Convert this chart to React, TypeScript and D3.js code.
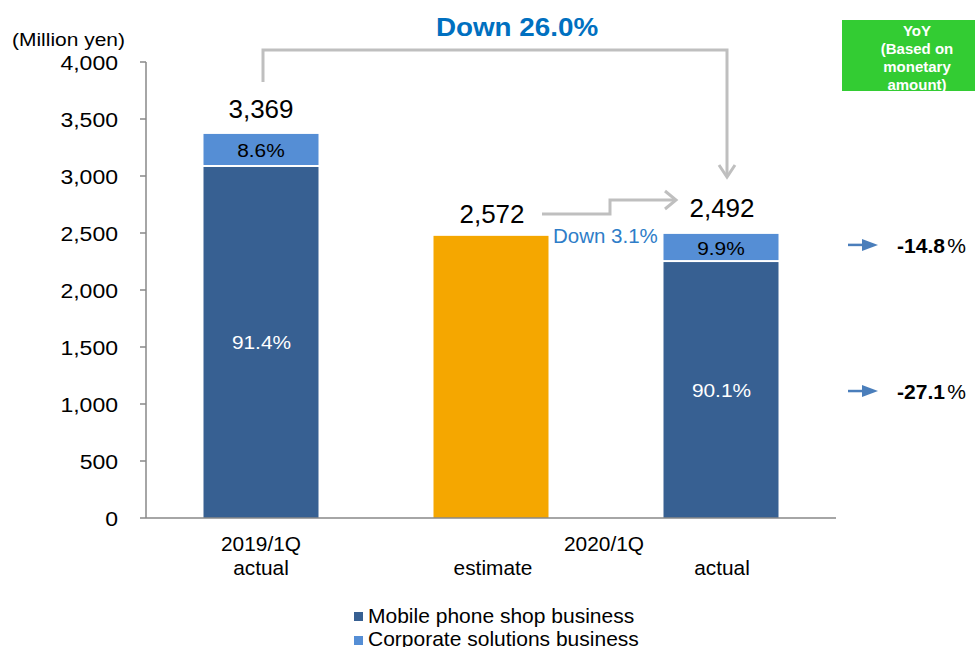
import React from "react";
import * as d3 from "d3";

const categories = ["2019/1Q actual", "2020/1Q estimate", "2020/1Q actual"];
const mobileValues = [3079, 0, 2245];
const corporateValues = [290, 0, 247];
// estimate bar height as drawn in the picture (its label reads 2,572)
const estimateValues = [0, 2475, 0];
const totalLabels = ["3,369", "2,572", "2,492"];
const mobilePctLabels = ["91.4%", "", "90.1%"];
const corporatePctLabels = ["8.6%", "", "9.9%"];
const yTicks = [0, 500, 1000, 1500, 2000, 2500, 3000, 3500, 4000];
const yoyLabels = ["-14.8", "-27.1"];
const legendLabels = ["Mobile phone shop business", "Corporate solutions business"];

const DARK = "#376092";
const LIGHT = "#558ed5";
const ORANGE = "#f5a700";
const FONT = "'Liberation Sans', Arial, sans-serif";

type TProps = {
  x: number; y: number; size: number; sx?: number; anchor?: string;
  fill?: string; weight?: string; children: React.ReactNode;
};
function T({ x, y, size, sx = 1, anchor = "start", fill = "#000", weight = "normal", children }: TProps) {
  return (
    <text transform={`translate(${x},${y}) scale(${sx},1)`} fontSize={size}
      textAnchor={anchor as any} fill={fill} fontWeight={weight}>{children}</text>
  );
}

export default function App() {
  const W = 975, H = 647;
  const x = d3.scaleBand().domain(categories).range([146, 836]).paddingInner(0.5).paddingOuter(0.25);
  const y = d3.scaleLinear().domain([0, 4000]).range([518, 62]);
  const bw = x.bandwidth();
  const cx = (i: number) => (x(categories[i]) as number) + bw / 2;
  const totals = categories.map((_, i) => mobileValues[i] + corporateValues[i] + estimateValues[i]);
  const fmt = d3.format(",");

  return (
    <svg width={W} height={H} style={{ position: "absolute", left: 0, top: 0, fontFamily: FONT }}>
      <rect width={W} height={H} fill="#fff" />
      {/* y axis */}
      <T x={12} y={46} size={18} sx={1.165}>(Million yen)</T>
      <line x1={146} x2={146} y1={y(4000)} y2={y(0)} stroke="#888" strokeWidth={1.5} />
      {yTicks.map((t) => (
        <g key={t}>
          <line x1={140} x2={146} y1={y(t)} y2={y(t)} stroke="#888" strokeWidth={1.5} />
          <T x={118} y={y(t) + 8} size={19.5} sx={1.18} anchor="end">{fmt(t)}</T>
        </g>
      ))}
      {/* bars */}
      {categories.map((c, i) => {
        const x0 = x(c) as number;
        return (
          <g key={c}>
            {estimateValues[i] > 0 && (
              <rect x={x0} width={bw} y={y(estimateValues[i])} height={y(0) - y(estimateValues[i])} fill={ORANGE} />
            )}
            {mobileValues[i] > 0 && (
              <rect x={x0} width={bw} y={y(mobileValues[i])} height={y(0) - y(mobileValues[i])} fill={DARK} />
            )}
            {corporateValues[i] > 0 && (
              <rect x={x0} width={bw} y={y(mobileValues[i] + corporateValues[i])}
                height={y(mobileValues[i]) - y(mobileValues[i] + corporateValues[i]) - 2} fill={LIGHT} />
            )}
            {mobilePctLabels[i] && (
              <T x={cx(i) + 0.5} y={(y(0) + y(mobileValues[i])) / 2 + 7} size={18} sx={1.16} fill="#fff" anchor="middle">{mobilePctLabels[i]}</T>
            )}
            {corporatePctLabels[i] && (
              <T x={cx(i)} y={(y(mobileValues[i]) + y(totals[i])) / 2 + 7} size={18} sx={1.16} anchor="middle">{corporatePctLabels[i]}</T>
            )}
          </g>
        );
      })}
      <line x1={146} x2={836} y1={y(0)} y2={y(0)} stroke="#888" strokeWidth={1.5} />
      {/* total labels */}
      <T x={cx(0)} y={118} size={26} anchor="middle">{totalLabels[0]}</T>
      <T x={cx(1) + 1} y={223} size={26} anchor="middle">{totalLabels[1]}</T>
      <T x={cx(2) + 1} y={217} size={26} anchor="middle">{totalLabels[2]}</T>
      {/* top arrow */}
      <path d={`M${cx(0) + 2},82 V50 H${cx(2) + 6} V176`} fill="none" stroke="#bfbfbf" strokeWidth={3} />
      <path d={`M${cx(2) - 2},165 L${cx(2) + 6},177 L${cx(2) + 14},165`} fill="none" stroke="#bfbfbf" strokeWidth={3} />
      <T x={517} y={36} size={26} sx={1.07} weight="bold" fill="#0070c0" anchor="middle">Down 26.0%</T>
      {/* middle arrow */}
      <path d="M542,214 H610 V200 H675" fill="none" stroke="#bfbfbf" strokeWidth={3} />
      <path d="M665,191 L676,200 L665,209" fill="none" stroke="#bfbfbf" strokeWidth={3} />
      <T x={553} y={243} size={20.5} fill="#2e7dc8">Down 3.1%</T>
      {/* x labels */}
      <T x={cx(0)} y={551} size={19.5} sx={1.07} anchor="middle">2019/1Q</T>
      <T x={cx(0)} y={575} size={19.5} sx={1.07} anchor="middle">actual</T>
      <T x={cx(1) + 2} y={575} size={19.5} sx={1.07} anchor="middle">estimate</T>
      <T x={604} y={551} size={19.5} sx={1.07} anchor="middle">2020/1Q</T>
      <T x={cx(2) + 1} y={575} size={19.5} sx={1.07} anchor="middle">actual</T>
      {/* legend */}
      {legendLabels.map((l, i) => (
        <g key={l}>
          <rect x={354} y={612 + i * 24} width={9} height={9} fill={i === 0 ? DARK : LIGHT} />
          <T x={368} y={623 + i * 23} size={21}>{l}</T>
        </g>
      ))}
      {/* YoY box */}
      <rect x={842} y={20} width={133} height={71} fill="#33cc33" />
      <g fill="#fff" fontWeight="bold" fontSize={15} textAnchor="middle">
        <text x={917} y={36}>YoY</text>
        <text x={917} y={54}>(Based on</text>
        <text x={917} y={72}>monetary</text>
        <text x={917} y={90}>amount)</text>
      </g>
      {/* YoY values */}
      {yoyLabels.map((v, i) => {
        const yy = i === 0 ? y(totals[2]) + 11 : (y(0) + y(mobileValues[2])) / 2 + 1;
        return (
          <g key={v}>
            <line x1={848} x2={864} y1={yy} y2={yy} stroke="#4a7ebb" strokeWidth={2.5} />
            <path d={`M862,${yy - 6} L878,${yy} L862,${yy + 6} Z`} fill="#4a7ebb" />
            <T x={897} y={yy + 8} size={19.5} sx={1.08} weight="bold">{v}<tspan fontWeight="normal" dx={2}>%</tspan></T>
          </g>
        );
      })}
    </svg>
  );
}
